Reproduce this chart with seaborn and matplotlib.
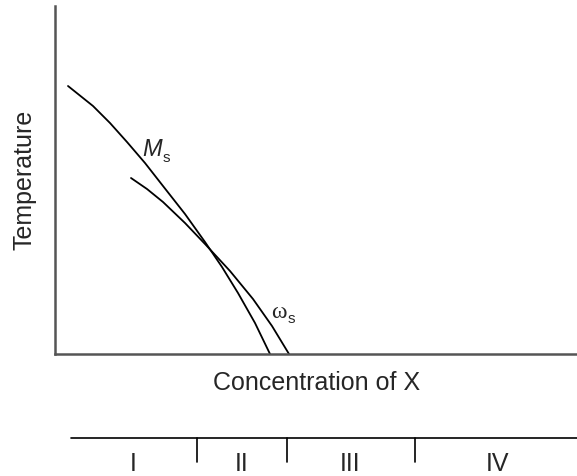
import numpy as np
import pandas as pd
import matplotlib
matplotlib.use("Agg")
import matplotlib.pyplot as plt
import seaborn as sns

# curves (arbitrary concentration / temperature units)
ms_x = [13, 38, 55, 72, 90, 108, 130, 150, 167, 183, 200, 215]
ms_y = [268, 248, 231, 212, 191, 168, 140, 112, 87, 61, 31, 0]
ws_x = [76, 92, 108, 130, 150, 175, 198, 217, 234]
ws_y = [176, 165, 152, 131, 110, 83, 55, 28, 0]

# composition regions under the axis
region_labels = ["I", "II", "III", "IV"]
region_centers = [78, 187, 295, 442]
region_bounds = [142, 232, 360]
region_start, region_end = 16, 522

df = pd.concat([
    pd.DataFrame({"conc": ms_x, "temp": ms_y, "curve": "Ms"}),
    pd.DataFrame({"conc": ws_x, "temp": ws_y, "curve": "ws"}),
])

sns.set_style("white")
plt.rcParams["font.family"] = ["Liberation Sans", "DejaVu Sans"]

fig = plt.figure(figsize=(5.77, 4.77), dpi=100)
ax = fig.add_axes([55 / 577, 122 / 477, 522 / 577, 348 / 477])

sns.lineplot(data=df, x="conc", y="temp", units="curve", estimator=None,
             sort=False, color="black", lw=1.3, ax=ax)

ax.set_xlim(0, 522)
ax.set_ylim(0, 348)
ax.set_xticks([])
ax.set_yticks([])
for s in ["top", "right"]:
    ax.spines[s].set_visible(False)
for s in ["left", "bottom"]:
    ax.spines[s].set_color("#555555")
    ax.spines[s].set_linewidth(1.8)
ax.set_xlabel("Concentration of X", fontsize=18)
ax.set_ylabel("Temperature", fontsize=18)
ax.xaxis.set_label_coords(0.502, -0.045)
ax.yaxis.set_label_coords(-0.036, 0.503)

# curve labels
ax.text(87, 199, "M", fontsize=17, style="italic", va="baseline")
ax.text(108, 193, "s", fontsize=11, va="baseline")
ax.text(216, 37, "ω", fontsize=17, family="Liberation Serif", va="baseline")
ax.text(233, 32, "s", fontsize=11, va="baseline")

# region bar
ax2 = fig.add_axes([55 / 577, 0, 522 / 577, 122 / 477])
ax2.set_xlim(0, 522)
ax2.set_ylim(0, 122)
ax2.axis("off")
ax2.plot([region_start, region_end], [38, 38], color="black", lw=1.2)
for b in region_bounds:
    ax2.plot([b, b], [38, 14], color="black", lw=1.2)
for lab, c in zip(region_labels, region_centers):
    ax2.text(c, 6, lab, ha="center", va="baseline", fontsize=18)

fig.savefig("out.png", dpi=100)
